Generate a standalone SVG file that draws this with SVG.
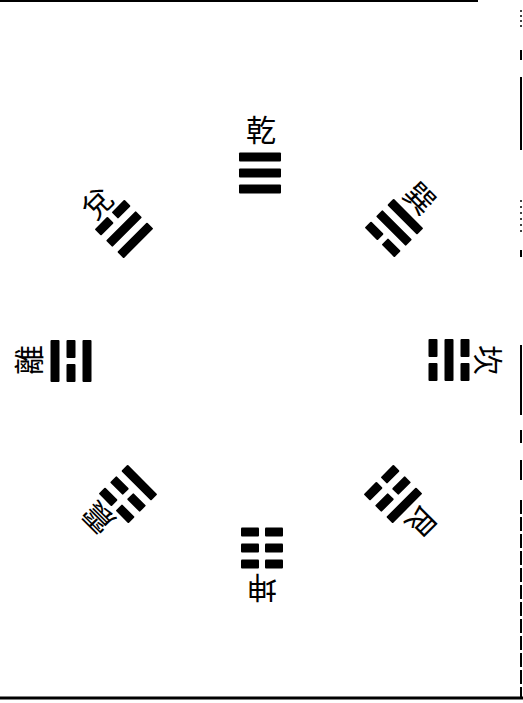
<svg xmlns="http://www.w3.org/2000/svg" xmlns:xlink="http://www.w3.org/1999/xlink" width="523" height="703" viewBox="0 0 523 703">
  <style>
    .bar { fill: #000; }
    .lbl { font-family: "Noto Sans CJK TC", "Noto Sans CJK SC", sans-serif; font-size: 30px; font-weight: 400; fill: #000; text-anchor: middle; dominant-baseline: central; }
    .frame { stroke: #000; fill: none; }
  </style>
  <defs>
    <rect id="yang" class="bar" x="-21" y="-4.5" width="42" height="9" rx="1"/>
    <g id="yin">
      <rect class="bar" x="-21" y="-4.5" width="18" height="9" rx="1"/>
      <rect class="bar" x="3" y="-4.5" width="18" height="9" rx="1"/>
    </g>
  </defs>
  <rect width="523" height="703" fill="#fff"/>

  <!-- frame lines of the scanned page -->
  <g id="frame">
    <line class="frame" x1="0" y1="1" x2="478" y2="1" stroke-width="2"/>
    <line class="frame" x1="0" y1="698" x2="523" y2="698" stroke-width="3"/>
    <line class="frame" x1="521" y1="10" x2="521" y2="30" stroke-width="1.5" stroke-dasharray="2 3"/>
    <line class="frame" x1="521" y1="50" x2="521" y2="60" stroke-width="2"/>
    <line class="frame" x1="521" y1="77" x2="521" y2="150" stroke-width="2"/>
    <line class="frame" x1="521" y1="200" x2="521" y2="235" stroke-width="1.5" stroke-dasharray="2 4"/>
    <line class="frame" x1="521" y1="250" x2="521" y2="257" stroke-width="2"/>
    <line class="frame" x1="521" y1="345" x2="521" y2="415" stroke-width="2"/>
    <line class="frame" x1="521" y1="430" x2="521" y2="443" stroke-width="2"/>
    <line class="frame" x1="521" y1="460" x2="521" y2="480" stroke-width="2"/>
    <line class="frame" x1="521" y1="500" x2="521" y2="698" stroke-width="2" stroke-dasharray="14 3"/>
  </g>

  <g id="connectors"></g>

  <!-- Qian (top) -->
  <g id="qian">
    <g transform="translate(260,173)">
      <use xlink:href="#yang" y="-16"/>
      <use xlink:href="#yang" y="0"/>
      <use xlink:href="#yang" y="16"/>
    </g>
    <text class="lbl" transform="translate(261,128)">乾</text>
  </g>

  <!-- Xun (upper right) -->
  <g id="xun">
    <g transform="translate(394,228) rotate(45)">
      <use xlink:href="#yang" y="-16"/>
      <use xlink:href="#yang" y="0"/>
      <use xlink:href="#yin" y="16"/>
    </g>
    <text class="lbl" transform="translate(421,197) rotate(45)">巽</text>
  </g>

  <!-- Kan (right) -->
  <g id="kan">
    <g transform="translate(449,360) rotate(90)">
      <use xlink:href="#yin" y="-16"/>
      <use xlink:href="#yang" y="0"/>
      <use xlink:href="#yin" y="16"/>
    </g>
    <text class="lbl" transform="translate(490,360) rotate(90)">坎</text>
  </g>

  <!-- Gen (lower right) -->
  <g id="gen">
    <g transform="translate(393,494) rotate(135)">
      <use xlink:href="#yang" y="-16"/>
      <use xlink:href="#yin" y="0"/>
      <use xlink:href="#yin" y="16"/>
    </g>
    <text class="lbl" transform="translate(423,523) rotate(135)">艮</text>
  </g>

  <!-- Kun (bottom) -->
  <g id="kun">
    <g transform="translate(262,548) rotate(180)">
      <use xlink:href="#yin" y="-16"/>
      <use xlink:href="#yin" y="0"/>
      <use xlink:href="#yin" y="16"/>
    </g>
    <text class="lbl" transform="translate(262,590) rotate(180)">坤</text>
  </g>

  <!-- Zhen (lower left) -->
  <g id="zhen">
    <g transform="translate(128,494) rotate(225)">
      <use xlink:href="#yin" y="-16"/>
      <use xlink:href="#yin" y="0"/>
      <use xlink:href="#yang" y="16"/>
    </g>
    <text class="lbl" transform="translate(97,519) rotate(225)">震</text>
  </g>

  <!-- Li (left) -->
  <g id="li">
    <g transform="translate(71,361) rotate(270)">
      <use xlink:href="#yang" y="-16"/>
      <use xlink:href="#yin" y="0"/>
      <use xlink:href="#yang" y="16"/>
    </g>
    <text class="lbl" transform="translate(27,360) rotate(270)">離</text>
  </g>

  <!-- Dui (upper left) -->
  <g id="dui">
    <g transform="translate(124,229) rotate(315)">
      <use xlink:href="#yin" y="-16"/>
      <use xlink:href="#yang" y="0"/>
      <use xlink:href="#yang" y="16"/>
    </g>
    <text class="lbl" transform="translate(96,202) rotate(315)">兌</text>
  </g>
</svg>
